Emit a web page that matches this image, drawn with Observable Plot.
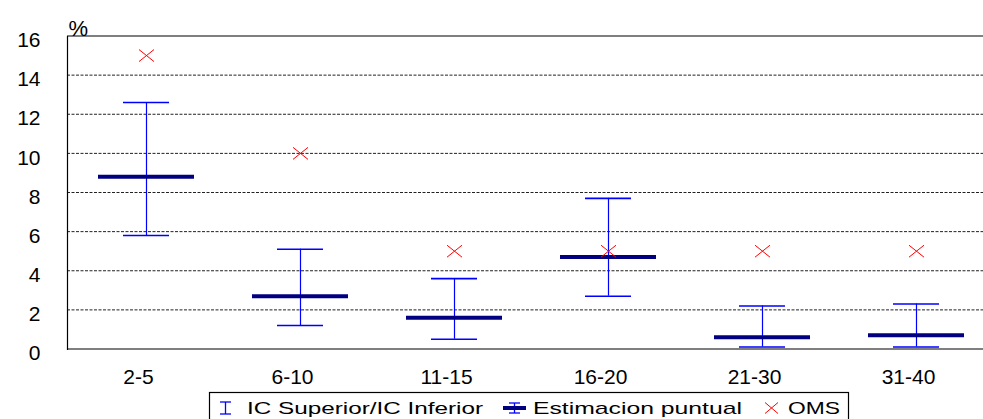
<!DOCTYPE html>
<html>
<head>
<meta charset="utf-8">
<script src="https://cdn.jsdelivr.net/npm/d3@7"></script>
<script src="https://cdn.jsdelivr.net/npm/@observablehq/plot@0.6"></script>
<style>
  html, body { margin: 0; padding: 0; background: white; overflow: hidden; }
  #chart svg { display: block; }
  #legend { display: block; }
</style>
</head>
<body>
<div id="chart"></div>
<svg id="legend" width="983" height="29"></svg>
<script>
const categories = ["2-5", "6-10", "11-15", "16-20", "21-30", "31-40"];
const icSuperior = [12.6, 5.1, 3.6, 7.7, 2.2, 2.3];
const icInferior = [5.8, 1.2, 0.5, 2.7, 0.1, 0.1];
const estimacion = [8.8, 2.7, 1.6, 4.7, 0.6, 0.7];
const oms = [15, 10, 5, 5, 5, 5];
const yTicks = [0, 2, 4, 6, 8, 10, 12, 14, 16];
const gridTicks = [2, 4, 6, 8, 10, 12, 14];
const legendLabels = ["IC Superior/IC Inferior", "Estimacion puntual", "OMS"];

const rows = categories.map((c, i) => ({
  cat: c, hi: icSuperior[i], lo: icInferior[i], est: estimacion[i], oms: oms[i]
}));

const timesSymbol = {
  draw(context) {
    const w = 7.5, h = 6;
    context.moveTo(-w, -h); context.lineTo(w, h);
    context.moveTo(-w, h); context.lineTo(w, -h);
  }
};

const FONT = "'Liberation Sans', Arial, sans-serif";

const chart = Plot.plot({
  width: 983,
  height: 390,
  marginLeft: 67,
  marginRight: 0,
  marginTop: 36,
  marginBottom: 41,
  style: { fontFamily: FONT, fontSize: "21px", background: "white", color: "black" },
  x: { domain: categories, range: [67, 994], padding: 0 },
  y: { domain: [0, 16], range: [348.5, 35.5] },
  marks: [
    Plot.gridY(gridTicks, { stroke: "#222", strokeOpacity: 1, strokeDasharray: "3,1.5" }),
    Plot.ruleY([0, 16], { stroke: "black", strokeWidth: 1.2 }),
    Plot.frame({ anchor: "left", stroke: "black", strokeWidth: 1.2 }),
    Plot.axisY(yTicks, { tickSize: 0, tickPadding: 27, dy: 4.5, label: null, fontSize: 21 }),
    Plot.axisX({ tickSize: 0, tickPadding: 20, dx: -8, label: null, fontSize: 21 }),
    Plot.text(["%"], { frameAnchor: "top-left", dy: -16, dx: 1, textAnchor: "start", fontSize: 22 }),
    Plot.ruleX(rows, { x: "cat", y1: "lo", y2: "hi", stroke: "#0000ff", strokeWidth: 1.2 }),
    Plot.tickY(rows, { x: "cat", y: "hi", insetLeft: 54, insetRight: 54, stroke: "#0000ff", strokeWidth: 1.6 }),
    Plot.tickY(rows, { x: "cat", y: "lo", insetLeft: 54, insetRight: 54, stroke: "#0000ff", strokeWidth: 1.6 }),
    Plot.tickY(rows, { x: "cat", y: "est", insetLeft: 29, insetRight: 29, stroke: "#000080", strokeWidth: 4 }),
    Plot.dot(rows, { x: "cat", y: "oms", symbol: timesSymbol, r: 7, stroke: "#ff0000", strokeWidth: 1, fill: "none" })
  ]
});
document.getElementById("chart").appendChild(chart);

// Legend (below the chart)
const lg = d3.select("#legend").style("font-family", FONT);
lg.append("rect").attr("x", 209.5).attr("y", 2.5).attr("width", 639).attr("height", 40)
  .attr("fill", "white").attr("stroke", "black").attr("stroke-width", 1.2);
// symbol 1: I-beam
const s1 = lg.append("g").attr("stroke", "#0000ff").attr("stroke-width", 1.3);
s1.append("line").attr("x1", 225.5).attr("x2", 225.5).attr("y1", 12).attr("y2", 24);
s1.append("line").attr("x1", 220).attr("x2", 231).attr("y1", 12).attr("y2", 12);
s1.append("line").attr("x1", 220).attr("x2", 231).attr("y1", 24).attr("y2", 24);
// symbol 2: estimate
const s2 = lg.append("g");
s2.append("line").attr("x1", 514.5).attr("x2", 514.5).attr("y1", 13).attr("y2", 23).attr("stroke", "#0000ff").attr("stroke-width", 1.3);
s2.append("line").attr("x1", 509).attr("x2", 520).attr("y1", 13).attr("y2", 13).attr("stroke", "#0000ff").attr("stroke-width", 1.3);
s2.append("line").attr("x1", 509).attr("x2", 520).attr("y1", 23).attr("y2", 23).attr("stroke", "#0000ff").attr("stroke-width", 1.3);
s2.append("line").attr("x1", 503).attr("x2", 526).attr("y1", 18).attr("y2", 18).attr("stroke", "#000080").attr("stroke-width", 4);
// symbol 3: X
const s3 = lg.append("g").attr("stroke", "#ff0000").attr("stroke-width", 1);
s3.append("line").attr("x1", 765).attr("x2", 778).attr("y1", 12.5).attr("y2", 23.5);
s3.append("line").attr("x1", 765).attr("x2", 778).attr("y1", 23.5).attr("y2", 12.5);
const textPos = [[247, 236], [533, 209], [788, 52]];
legendLabels.forEach((t, i) => {
  lg.append("text").attr("x", textPos[i][0]).attr("y", 24)
    .attr("font-size", 17).attr("fill", "black")
    .attr("textLength", textPos[i][1]).attr("lengthAdjust", "spacingAndGlyphs")
    .text(t);
});
</script>
</body>
</html>
